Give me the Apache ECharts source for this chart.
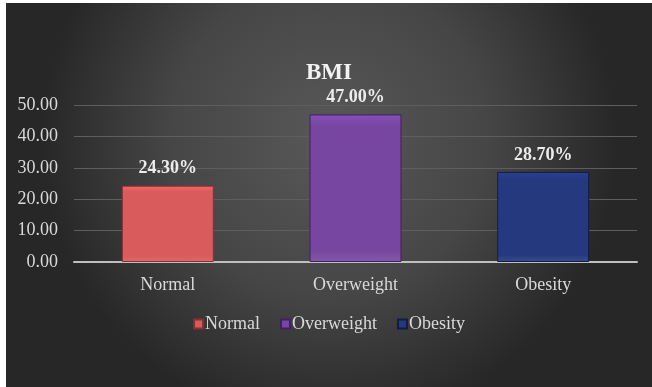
<!DOCTYPE html>
<html>
<head>
<meta charset="utf-8">
<script src="https://cdn.jsdelivr.net/npm/echarts@6/dist/echarts.min.js"></script>
<style>
  html, body { margin: 0; padding: 0; background: #fff; }
  #chart { position: absolute; left: 6px; top: 3px; width: 646px; height: 384px; }
</style>
</head>
<body>
<div id="chart"></div>
<script>
const categories = ['Normal', 'Overweight', 'Obesity'];
const normalValues = [24.3, '-', '-'];
const overweightValues = ['-', 47.0, '-'];
const obesityValues = ['-', '-', 28.7];
const seriesColors = ['#d95b5c', '#7646a0', '#25397f'];
const borderColors = ['#8a3030', '#3f2260', '#121d45'];

let chart = echarts.init(document.getElementById('chart'));

const font = '"Liberation Serif", "Times New Roman", serif';

function makeSeries(name, data, i) {
    return {
        name: name,
        type: 'bar',
        data: data,
        barWidth: '49%',
        barGap: '-100%',
        itemStyle: {
            color: {
                type: 'linear', x: 0, y: 0, x2: 0, y2: 1,
                colorStops: [
                    { offset: 0, color: echarts.color.lift(seriesColors[i], -0.15) },
                    { offset: 0.08, color: seriesColors[i] },
                    { offset: 0.92, color: seriesColors[i] },
                    { offset: 1, color: echarts.color.lift(seriesColors[i], 0.1) }
                ]
            },
            borderColor: borderColors[i],
            borderWidth: 1
        },
        label: {
            show: true,
            position: 'top',
            distance: 8,
            color: '#ececec',
            fontFamily: font,
            fontWeight: 'bold',
            fontSize: 18,
            formatter: p => p.value.toFixed(2) + '%'
        }
    };
}

const option = {
    backgroundColor: {
        type: 'radial', x: 0.5, y: 0.35, r: 0.75,
        colorStops: [
            { offset: 0, color: '#585858' },
            { offset: 0.55, color: '#464646' },
            { offset: 1, color: '#272727' }
        ]
    },
    title: {
        text: 'BMI',
        left: 'center',
        top: 54,
        textStyle: { color: '#f2f2f2', fontFamily: font, fontWeight: 'bold', fontSize: 23 }
    },
    legend: {
        data: categories,
        top: 307,
        left: 'center',
        icon: 'rect',
        itemWidth: 9,
        itemHeight: 9,
        itemGap: 20,
        textStyle: { color: '#d9d9d9', fontFamily: font, fontSize: 18, padding: [0, 0, 0, -3] }
    },
    grid: { left: 68, right: 15, top: 102, bottom: 125 },
    xAxis: {
        type: 'category',
        data: categories,
        axisLine: { lineStyle: { color: '#bfbfbf', width: 2 } },
        axisTick: { show: false },
        axisLabel: { color: '#d9d9d9', fontFamily: font, fontSize: 18, margin: 14 }
    },
    yAxis: {
        type: 'value',
        min: 0,
        max: 50,
        interval: 10,
        axisLine: { show: false },
        axisTick: { show: false },
        splitLine: { lineStyle: { color: '#5e5e5e', width: 1 } },
        axisLabel: {
            color: '#d9d9d9', fontFamily: font, fontSize: 18, margin: 16,
            formatter: v => v.toFixed(2)
        }
    },
    series: [
        makeSeries('Normal', normalValues, 0),
        makeSeries('Overweight', overweightValues, 1),
        makeSeries('Obesity', obesityValues, 2)
    ]
};

chart.setOption(option);
</script>
</body>
</html>
